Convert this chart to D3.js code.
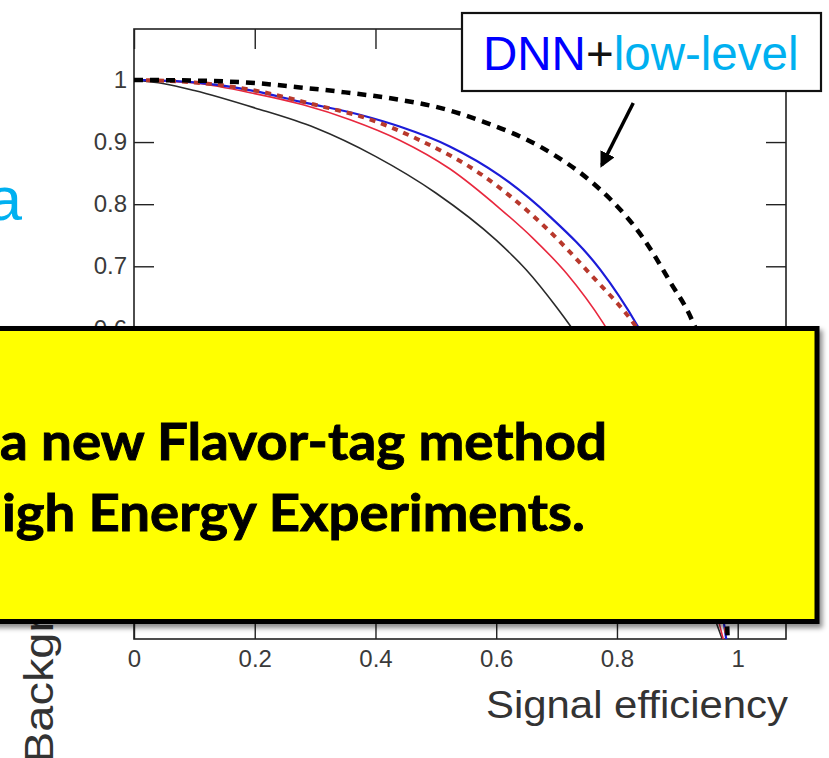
<!DOCTYPE html>
<html>
<head>
<meta charset="utf-8">
<script src="https://cdn.jsdelivr.net/npm/d3@7"></script>
<style>
  body { margin: 0; background: #fff; }
  svg { display: block; }
</style>
</head>
<body>
<svg id="chart" width="829" height="758"></svg>
<script>
// Axis ticks
const xTickValues = [0, 0.2, 0.4, 0.6, 0.8, 1];
const yTickValues = [0.2, 0.3, 0.4, 0.5, 0.6, 0.7, 0.8, 0.9, 1];

// ROC curves: signal efficiency (x) vs background rejection (y)
const jetVarsEff = [0, 0.05, 0.1, 0.2, 0.3, 0.4, 0.5, 0.6, 0.65, 0.7, 0.722, 0.78, 0.84, 0.9, 0.94, 0.965, 0.978];
const jetVarsRej = [1, 0.994, 0.983, 0.955, 0.923, 0.877, 0.818, 0.742, 0.694, 0.634, 0.605, 0.52, 0.41, 0.29, 0.19, 0.125, 0.09];

const bdtEff = [0, 0.1, 0.2, 0.28, 0.358, 0.44, 0.523, 0.606, 0.661, 0.717, 0.777, 0.83, 0.88, 0.92, 0.95, 0.968, 0.98];
const bdtRej = [1, 0.995, 0.978, 0.96, 0.936, 0.903, 0.857, 0.793, 0.745, 0.688, 0.609, 0.52, 0.41, 0.3, 0.2, 0.13, 0.085];

const bdtAllEff = [0, 0.1, 0.2, 0.3, 0.386, 0.469, 0.578, 0.677, 0.76, 0.827, 0.87, 0.91, 0.94, 0.96, 0.973, 0.982, 0.986];
const bdtAllRej = [1, 0.996, 0.983, 0.96, 0.938, 0.905, 0.846, 0.767, 0.683, 0.609, 0.545, 0.455, 0.36, 0.27, 0.18, 0.1, 0.05];

const dnnHighEff = [0, 0.1, 0.2, 0.275, 0.374, 0.44, 0.523, 0.606, 0.689, 0.772, 0.833, 0.88, 0.92, 0.95, 0.968, 0.978, 0.984];
const dnnHighRej = [1, 0.996, 0.982, 0.965, 0.944, 0.925, 0.893, 0.846, 0.78, 0.695, 0.606, 0.52, 0.42, 0.31, 0.2, 0.12, 0.08];

const dnnLowEff = [0, 0.1, 0.2, 0.275, 0.35, 0.44, 0.507, 0.578, 0.672, 0.76, 0.793, 0.843, 0.888, 0.924, 0.945, 0.96, 0.97, 0.977, 0.981, 0.984];
const dnnLowRej = [1, 0.999, 0.995, 0.988, 0.98, 0.968, 0.955, 0.933, 0.893, 0.834, 0.804, 0.746, 0.675, 0.614, 0.56, 0.49, 0.4, 0.29, 0.17, 0.08];

// Arrow annotation (data units): tail -> head
const arrowFrom = [0.827, 0.963];
const arrowTo = [0.775, 0.863];

const svg = d3.select("#chart");
const W = 829, H = 758;
const plot = { left: 134, right: 786, top: 29, bottom: 639 };

const x = d3.scaleLinear().domain([0, 1.08]).range([plot.left, plot.right]);
const y = d3.scaleLinear().domain([0.1, 1.082]).range([plot.bottom, plot.top]);

const defs = svg.append("defs");
defs.append("clipPath").attr("id", "plotClip")
  .append("rect")
  .attr("x", plot.left).attr("y", plot.top)
  .attr("width", plot.right - plot.left).attr("height", plot.bottom - plot.top);
defs.append("clipPath").attr("id", "lowerClip")
  .append("rect").attr("x", 0).attr("y", 340).attr("width", W).attr("height", H - 340);
const shadow = defs.append("filter").attr("id", "boxShadow")
  .attr("x", "-5%").attr("y", "-5%").attr("width", "115%").attr("height", "120%");
shadow.append("feDropShadow")
  .attr("dx", 3).attr("dy", 4).attr("stdDeviation", 2.5)
  .attr("flood-color", "#000").attr("flood-opacity", 0.45);
const arrowHead = defs.append("marker").attr("id", "arrowHead")
  .attr("viewBox", "0 0 10 10").attr("refX", 8).attr("refY", 5)
  .attr("markerWidth", 4.5).attr("markerHeight", 4.5)
  .attr("orient", "auto");
arrowHead.append("path").attr("d", "M0,0 L10,5 L0,10 Z").attr("fill", "#000");

// slide text fragment at the far left
svg.append("text")
  .attr("x", 22).attr("y", 220)
  .attr("text-anchor", "end")
  .attr("font-family", "Liberation Sans, Arial, sans-serif")
  .attr("font-size", 62)
  .attr("fill", "#00b0f0")
  .text("a");

// y-axis title (its upper part sits behind the callout)
svg.append("g").attr("clip-path", "url(#lowerClip)")
  .append("text")
  .attr("transform", `translate(53,763) rotate(-90)`)
  .attr("font-family", "Liberation Sans, Arial, sans-serif")
  .attr("font-size", 40)
  .attr("textLength", 441)
  .attr("lengthAdjust", "spacingAndGlyphs")
  .attr("fill", "#333")
  .text("Background rejection");

// axes with inward ticks
const fmt = d3.format("~g");
const axisStyle = g => {
  g.select(".domain").remove();
  g.selectAll(".tick line").attr("stroke", "#222").attr("stroke-width", 1.4);
  g.selectAll(".tick text")
    .attr("fill", "#3a3a3a")
    .attr("font-family", "Liberation Sans, Arial, sans-serif")
    .attr("font-size", 24);
};

svg.append("g").attr("transform", `translate(0,${plot.bottom})`)
  .call(d3.axisBottom(x).tickValues(xTickValues).tickFormat(fmt).tickSize(-20).tickPadding(11))
  .call(axisStyle);
svg.append("g").attr("transform", `translate(0,${plot.top})`)
  .call(d3.axisTop(x).tickValues(xTickValues).tickFormat("").tickSize(-20))
  .call(axisStyle);
svg.append("g").attr("transform", `translate(${plot.left},0)`)
  .call(d3.axisLeft(y).tickValues(yTickValues).tickFormat(fmt).tickSize(-20).tickPadding(7))
  .call(axisStyle);
svg.append("g").attr("transform", `translate(${plot.right},0)`)
  .call(d3.axisRight(y).tickValues(yTickValues).tickFormat("").tickSize(-20))
  .call(axisStyle);

// frame
svg.append("rect")
  .attr("x", plot.left).attr("y", plot.top)
  .attr("width", plot.right - plot.left).attr("height", plot.bottom - plot.top)
  .attr("fill", "none").attr("stroke", "#222").attr("stroke-width", 1.6);

// curves
const line = d3.line().x(d => x(d[0])).y(d => y(d[1])).curve(d3.curveMonotoneX);
const series = [
  { eff: jetVarsEff, rej: jetVarsRej, color: "#2a2a2a", width: 1.6, dash: null },
  { eff: bdtEff, rej: bdtRej, color: "#e8283e", width: 1.6, dash: null },
  { eff: dnnHighEff, rej: dnnHighRej, color: "#1c1cd8", width: 2.2, dash: null },
  { eff: bdtAllEff, rej: bdtAllRej, color: "#b8382c", width: 4, dash: "6,6" },
  { eff: dnnLowEff, rej: dnnLowRej, color: "#000", width: 4.5, dash: "9,7" }
];
const curves = svg.append("g").attr("clip-path", "url(#plotClip)");
series.forEach(s => {
  curves.append("path")
    .datum(s.eff.map((e, i) => [e, s.rej[i]]))
    .attr("d", line)
    .attr("fill", "none")
    .attr("stroke", s.color)
    .attr("stroke-width", s.width)
    .attr("stroke-dasharray", s.dash);
});

// label box
svg.append("rect")
  .attr("x", 462).attr("y", 13).attr("width", 359).attr("height", 78)
  .attr("fill", "#fff").attr("stroke", "#111").attr("stroke-width", 2.2);
const lbl = svg.append("text")
  .attr("x", 483).attr("y", 70)
  .attr("font-family", "Liberation Sans, Arial, sans-serif")
  .attr("font-size", 47.5);
lbl.append("tspan").attr("fill", "#0000ff").text("DNN");
lbl.append("tspan").attr("fill", "#111").text("+");
lbl.append("tspan").attr("fill", "#00b0f0").text("low-level");

// arrow
svg.append("line")
  .attr("x1", x(arrowFrom[0])).attr("y1", y(arrowFrom[1]))
  .attr("x2", x(arrowTo[0])).attr("y2", y(arrowTo[1]))
  .attr("stroke", "#000").attr("stroke-width", 3.5)
  .attr("marker-end", "url(#arrowHead)");

// yellow callout
svg.append("rect")
  .attr("x", -20).attr("y", 328.5).attr("width", 837).attr("height", 293)
  .attr("fill", "#ffff00").attr("stroke", "#000").attr("stroke-width", 5)
  .attr("filter", "url(#boxShadow)");
const callout = [
  { text: "a new Flavor-tag method", x: 0, y: 460, len: 607 },
  { text: "igh Energy Experiments.", x: 2, y: 531, len: 583 }
];
svg.selectAll("text.callout").data(callout).join("text")
  .attr("class", "callout")
  .attr("x", d => d.x).attr("y", d => d.y)
  .attr("textLength", d => d.len)
  .attr("lengthAdjust", "spacingAndGlyphs")
  .attr("font-family", "Lato, 'Open Sans', sans-serif")
  .attr("font-weight", 700)
  .attr("font-size", 51)
  .attr("fill", "#000")
  .attr("stroke", "#000")
  .attr("stroke-width", 0.9)
  .text(d => d.text);

// x-axis title
svg.append("text")
  .attr("x", 788).attr("y", 718)
  .attr("text-anchor", "end")
  .attr("textLength", 302)
  .attr("lengthAdjust", "spacingAndGlyphs")
  .attr("font-family", "Liberation Sans, Arial, sans-serif")
  .attr("font-size", 38)
  .attr("fill", "#333")
  .text("Signal efficiency");
</script>
</body>
</html>
